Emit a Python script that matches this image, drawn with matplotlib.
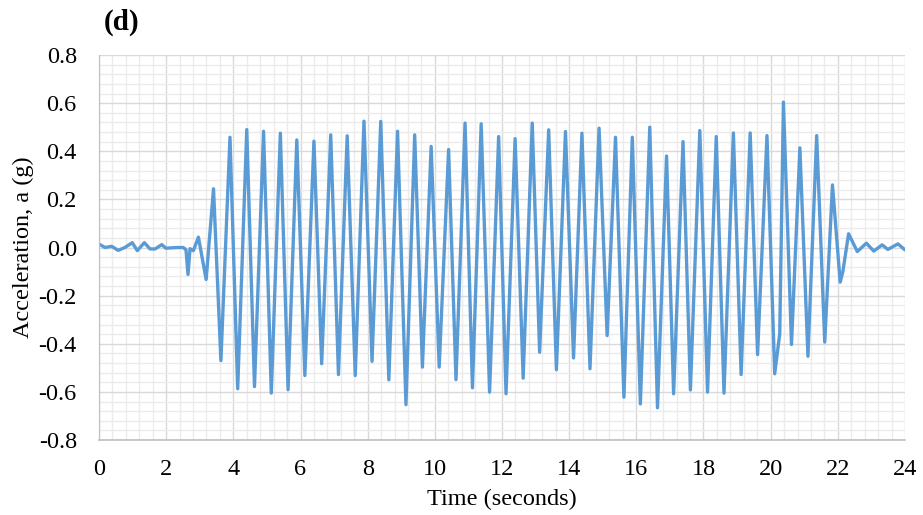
import matplotlib
matplotlib.use('Agg')
import matplotlib.pyplot as plt
from matplotlib.ticker import MultipleLocator

plt.rcParams['font.family'] = ['Liberation Serif', 'DejaVu Serif']

# time (s) and acceleration (g) at the turning points
time_s = [0.00, 0.03, 0.18, 0.38, 0.57, 0.77, 0.99, 1.14, 1.35, 1.52, 1.67,
          1.87, 1.99, 2.31, 2.51, 2.59, 2.65, 2.71, 2.81, 2.96, 3.19, 3.41,
          3.63, 3.90, 4.13, 4.40, 4.63, 4.90, 5.13, 5.40, 5.63, 5.89, 6.13,
          6.40, 6.63, 6.90, 7.13, 7.39, 7.63, 7.89, 8.13, 8.39, 8.63, 8.89,
          9.14, 9.40, 9.63, 9.89, 10.13, 10.41, 10.63, 10.90, 11.12, 11.38,
          11.63, 11.90, 12.12, 12.39, 12.63, 12.90, 13.12, 13.39, 13.62,
          13.89, 14.13, 14.38, 14.62, 14.89, 15.13, 15.38, 15.63, 15.88,
          16.12, 16.40, 16.63, 16.90, 17.11, 17.39, 17.61, 17.89, 18.12,
          18.38, 18.61, 18.89, 19.12, 19.39, 19.61, 19.89, 20.12, 20.27,
          20.38, 20.62, 20.87, 21.11, 21.37, 21.61, 21.84, 22.07, 22.15,
          22.32, 22.58, 22.85, 23.07, 23.32, 23.49, 23.79, 24.00]
accel_g = [0.012, 0.012, 0.000, 0.005, -0.012, 0.000, 0.020, -0.013, 0.020,
           -0.006, -0.006, 0.012, -0.003, 0.000, 0.000, -0.010, -0.112,
           -0.005, -0.013, 0.043, -0.133, 0.244, -0.470, 0.458, -0.587,
           0.490, -0.578, 0.483, -0.605, 0.475, -0.591, 0.447, -0.532,
           0.442, -0.483, 0.468, -0.528, 0.464, -0.532, 0.525, -0.473,
           0.524, -0.550, 0.483, -0.653, 0.468, -0.497, 0.420, -0.497,
           0.407, -0.549, 0.517, -0.583, 0.514, -0.601, 0.461, -0.608,
           0.452, -0.543, 0.517, -0.435, 0.489, -0.508, 0.482, -0.459,
           0.475, -0.504, 0.496, -0.366, 0.458, -0.622, 0.458, -0.650,
           0.500, -0.666, 0.380, -0.608, 0.440, -0.592, 0.486, -0.601,
           0.461, -0.605, 0.476, -0.528, 0.476, -0.445, 0.465, -0.525,
           -0.359, 0.604, -0.403, 0.414, -0.452, 0.465, -0.393, 0.260,
           -0.144, -0.100, 0.057, -0.017, 0.018, -0.015, 0.011, -0.008,
           0.015, -0.010]

fig = plt.figure(figsize=(9.23, 5.15), dpi=100)
ax = fig.add_axes([99 / 923, 75 / 515, 806 / 923, 385 / 515])

ax.plot(time_s, accel_g, color='#5B9BD5', linewidth=2.4,
        solid_joinstyle='round', solid_capstyle='round')

ax.set_xlim(0, 24)
ax.set_ylim(-0.8, 0.8)
ax.xaxis.set_major_locator(MultipleLocator(2))
ax.xaxis.set_minor_locator(MultipleLocator(0.4))
ax.yaxis.set_major_locator(MultipleLocator(0.2))
ax.yaxis.set_minor_locator(MultipleLocator(0.04))
ax.yaxis.set_major_formatter(plt.FuncFormatter(lambda v, p: '%.1f' % v))

ax.grid(True, which='major', color='#D9D9D9', linewidth=1.0)
ax.grid(True, which='minor', color='#EBEBEB', linewidth=1.0)
ax.set_axisbelow(True)

for side in ['top', 'right']:
    ax.spines[side].set_visible(False)
ax.spines['left'].set_color('#BFBFBF')
ax.spines['bottom'].set_color('#BFBFBF')
ax.spines['bottom'].set_linewidth(1.2)

ax.tick_params(which='both', length=0, labelsize=17.5, colors='black')
ax.tick_params(axis='x', pad=14)
ax.tick_params(axis='y', pad=16)

ax.set_xlabel('Time (seconds)', fontsize=17.5, labelpad=6)
ax.set_ylabel('Acceleration, a (g)', fontsize=17.5, labelpad=3)

fig.text(104 / 923, 1 - 22 / 515, '(d)', fontsize=21, fontweight='bold',
         va='center', ha='left')

fig.savefig('out.png', dpi=100)
